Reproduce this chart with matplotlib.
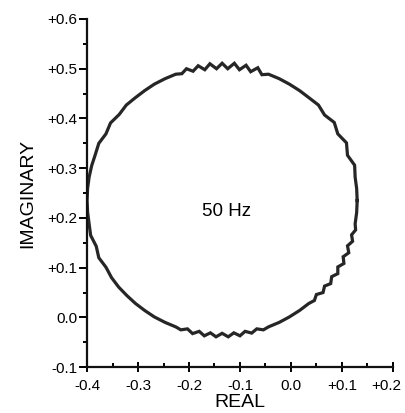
import matplotlib
matplotlib.use("Agg")
import matplotlib.pyplot as plt
from matplotlib.ticker import MultipleLocator, FixedLocator
from matplotlib.transforms import ScaledTranslation

# Nyquist-style locus at 50 Hz
real = [0.130, 0.129, 0.126, 0.125, 0.111, 0.109, 0.092, 0.085, 0.066, 0.054,
        0.035, 0.017, -0.003, -0.023, -0.044,
        -0.057, -0.065, -0.079, -0.088, -0.101, -0.111, -0.124, -0.135,
        -0.146, -0.159, -0.169, -0.182, -0.192, -0.205, -0.214,
        -0.226, -0.247, -0.268, -0.287, -0.305,
        -0.323, -0.337, -0.354, -0.363, -0.377, -0.384, -0.391,
        -0.396, -0.399, -0.400, -0.399, -0.396,
        -0.393, -0.382, -0.377, -0.363, -0.352, -0.338, -0.322, -0.305,
        -0.287, -0.268, -0.247, -0.226,
        -0.216, -0.203, -0.193, -0.180, -0.170, -0.158, -0.147, -0.135,
        -0.123, -0.112, -0.100, -0.090, -0.077, -0.067, -0.054,
        -0.044, -0.023, -0.003, 0.017,
        0.035, 0.046, 0.050, 0.063, 0.066, 0.078, 0.080, 0.092, 0.092,
        0.104, 0.1025, 0.1135, 0.111, 0.121, 0.119, 0.127,
        0.126, 0.129, 0.130]
imag = [0.235, 0.259, 0.282, 0.306, 0.326, 0.351, 0.369, 0.392, 0.407, 0.427,
        0.442, 0.456, 0.469, 0.480, 0.489,
        0.488, 0.502, 0.494, 0.507, 0.498, 0.511, 0.500, 0.511,
        0.500, 0.510, 0.498, 0.506, 0.495, 0.500, 0.490,
        0.489, 0.480, 0.469, 0.456, 0.442,
        0.427, 0.408, 0.391, 0.369, 0.350, 0.327, 0.305,
        0.282, 0.259, 0.235, 0.212, 0.188,
        0.165, 0.143, 0.120, 0.101, 0.080, 0.061, 0.044, 0.028,
        0.014, 0.001, -0.010, -0.019,
        -0.025, -0.023, -0.0325, -0.028, -0.037, -0.031, -0.039, -0.032,
        -0.039, -0.031, -0.037, -0.028, -0.0315, -0.023, -0.025,
        -0.019, -0.010, 0.001, 0.014,
        0.028, 0.034, 0.046, 0.050, 0.063, 0.068, 0.082, 0.088, 0.1015,
        0.1085, 0.122, 0.130, 0.144, 0.153, 0.166, 0.176,
        0.188, 0.211, 0.235]

x_ticks = [-0.4, -0.3, -0.2, -0.1, 0.0, 0.1, 0.2]
x_labels = ["-0.4", "-0.3", "-0.2", "-0.1", "0.0", "+0.1", "+0.2"]
y_ticks = [-0.1, 0.0, 0.1, 0.2, 0.3, 0.4, 0.5, 0.6]
y_labels = ["-0.1", "0.0", "+0.1", "+0.2", "+0.3", "+0.4", "+0.5", "+0.6"]

plt.rcParams['font.family'] = ['Liberation Sans', 'DejaVu Sans']

fig = plt.figure(figsize=(4.05, 4.13), dpi=100)
ax = fig.add_axes([0.215, 0.111, 0.755, 0.843])

ax.plot(real, imag, color='#262626', lw=2.3, solid_joinstyle='miter')

ax.set_xlim(-0.4, 0.2)
ax.set_ylim(-0.1, 0.6)
ax.spines['top'].set_visible(False)
ax.spines['right'].set_visible(False)
for s in ('left', 'bottom'):
    ax.spines[s].set_linewidth(1.6)
    ax.spines[s].set_color('#111111')

ax.xaxis.set_major_locator(FixedLocator(x_ticks))
ax.set_xticklabels(x_labels)
ax.yaxis.set_major_locator(FixedLocator(y_ticks))
ax.set_yticklabels(y_labels)
ax.xaxis.set_minor_locator(MultipleLocator(0.05))
ax.yaxis.set_minor_locator(MultipleLocator(0.05))

ax.tick_params(axis='x', which='major', direction='inout', length=7, width=1.4, labelsize=11, pad=5)
ax.tick_params(axis='x', which='minor', direction='in', length=3, width=1.4)
ax.tick_params(axis='y', which='major', direction='out', length=6, width=1.4, labelsize=11, pad=1)
ax.tick_params(axis='y', which='minor', direction='out', length=3, width=1.4)

# last x label would run off the right edge, nudge it left a bit
last = ax.get_xticklabels()[-1]
last.set_transform(last.get_transform() + ScaledTranslation(-5 / 72, 0, fig.dpi_scale_trans))

ax.set_xlabel("REAL", fontsize=14, labelpad=1)
ax.set_ylabel("IMAGINARY", fontsize=14, labelpad=8)

ax.text(-0.127, 0.212, "50 Hz", fontsize=13.5, ha='center', va='center')

fig.savefig("out.png", dpi=100)
